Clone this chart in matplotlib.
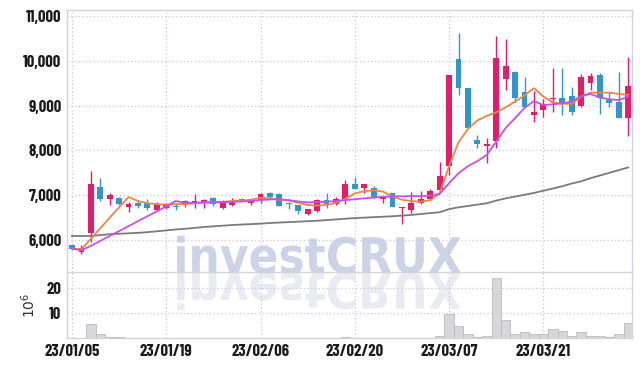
import matplotlib
matplotlib.use("Agg")
import matplotlib.pyplot as plt
import numpy as np
from matplotlib import font_manager
from matplotlib.textpath import TextPath
from matplotlib.patches import PathPatch
from matplotlib.font_manager import FontProperties
from matplotlib.transforms import Affine2D

# --- data ---
date_ticks = [0, 10, 20, 30, 40, 50]
date_labels = ["23/01/05", "23/01/19", "23/02/06", "23/02/20", "23/03/07", "23/03/21"]

opens = [5880, 5740, 6150, 7180, 6920, 6940, 6745, 6830, 6830, 6680,
         6710, 6770, 6780, 6800, 6820, 6930, 6725, 6785, 6910, 6830,
         6895, 7040, 7020, 6830, 6780, 6580, 6650, 6890, 6810, 6910,
         7255, 7155, 7150, 6910, 7040, 6710, 6660, 6820, 6915, 7120,
         7660, 10040, 9390, 8230, 8105, 8200, 9590, 9760, 9310, 8780,
         8905, 9150, 9165, 9215, 9000, 9510, 9680, 9125, 9085, 8730]
highs = [5900, 5890, 7550, 7380, 7060, 6970, 6845, 6890, 6910, 6840,
         6820, 6810, 6890, 7020, 6910, 6950, 6890, 6930, 6945, 6910,
         7040, 7080, 7040, 6840, 6790, 6700, 6910, 7060, 6950, 7340,
         7410, 7260, 7200, 6990, 7060, 6740, 7075, 7090, 7130, 7735,
         9690, 10610, 9400, 8340, 8270, 10550, 10480, 9780, 9630, 9330,
         9140, 9850, 9830, 9420, 9700, 9720, 9720, 9310, 9760, 10080]
lows = [5780, 5680, 5960, 6860, 6780, 6780, 6630, 6710, 6670, 6650,
        6690, 6680, 6740, 6710, 6710, 6750, 6700, 6750, 6860, 6790,
        6830, 6930, 6750, 6700, 6580, 6550, 6630, 6710, 6790, 6810,
        7130, 7050, 6920, 6820, 6740, 6360, 6610, 6800, 6890, 7100,
        7450, 9240, 8500, 8050, 7710, 8050, 9350, 9090, 8950, 8640,
        8750, 8865, 8790, 8790, 8980, 9350, 8810, 8960, 8720, 8320]
closes = [5810, 5830, 7260, 6920, 7010, 6800, 6800, 6770, 6710, 6810,
          6780, 6740, 6865, 6860, 6890, 6800, 6830, 6875, 6895, 6880,
          7020, 6950, 6770, 6800, 6640, 6690, 6890, 6810, 6910, 7260,
          7140, 7255, 6930, 6965, 6745, 6730, 6815, 6905, 7085, 7435,
          9680, 9390, 8510, 8140, 8140, 10055, 9885, 9180, 8960, 8865,
          9030, 9165, 9040, 8865, 9630, 9660, 9165, 9065, 8730, 9440]

ma_short = [5810, 5790, 6030, 6260, 6500, 6730, 6960, 6870, 6820, 6800,
            6790, 6800, 6800, 6820, 6840, 6850, 6850, 6870, 6880, 6900,
            6940, 6930, 6900, 6880, 6830, 6780, 6770, 6780, 6830, 6920,
            7040, 7090, 7110, 7080, 6970, 6900, 6870, 6855, 6890, 7040,
            7650, 8180, 8480, 8670, 8770, 8850, 8960, 9090, 9230, 9390,
            9200, 9070, 9040, 9040, 9200, 9290, 9290, 9290, 9260, 9240]
ma_mid = [5810, 5770, 5870, 5980, 6090, 6200, 6310, 6420, 6530, 6640,
          6750, 6870, 6830, 6830, 6835, 6840, 6845, 6850, 6860, 6870,
          6890, 6905, 6910, 6890, 6860, 6840, 6845, 6855, 6870, 6890,
          6910, 6930, 6950, 6965, 6970, 6975, 6980, 6980, 6990, 7030,
          7270, 7490, 7650, 7760, 7900, 8200, 8500, 8720, 8950, 9100,
          9010, 9030, 9050, 9090, 9210, 9260, 9180, 9140, 9125, 9200]
ma_long = [6090, 6090, 6090, 6110, 6130, 6140, 6150, 6160, 6175, 6195,
           6215, 6235, 6250, 6270, 6290, 6305, 6320, 6335, 6345, 6355,
           6365, 6380, 6390, 6400, 6410, 6420, 6430, 6445, 6460, 6475,
           6490, 6500, 6510, 6520, 6530, 6545, 6560, 6580, 6600, 6620,
           6690, 6730, 6760, 6790, 6820, 6880, 6930, 6970, 7010, 7050,
           7100, 7150, 7200, 7260, 7310, 7380, 7440, 7500, 7560, 7620]

volume = [0.05, 0.05, 5.8, 1.5, 0.6, 0.6, 0.1, 0.1, 0.1, 0.1,
          0.1, 0.1, 0.1, 0.1, 0.1, 0.1, 0.1, 0.1, 0.1, 0.1,
          0.1, 0.1, 0.1, 0.1, 0.1, 0.1, 0.1, 0.1, 0.1, 0.6,
          0.1, 0.1, 0.1, 0.1, 0.1, 0.1, 0.1, 0.1, 0.1, 1.0,
          9.5, 4.7, 1.5, 0.5, 1.0, 23.9, 7.1, 1.8, 2.3, 1.5,
          1.5, 3.8, 2.7, 0.7, 2.3, 1.0, 0.9, 0.6, 1.5, 5.9]

UP = "#e31c6b"
DOWN = "#3197c9"
GRID = "#c6c6dc"
FRAME = "#d2d2da"
TEXT = "#1a1a1a"

names = {f.name for f in font_manager.fontManager.ttflist}
label_font = "Barlow Condensed" if "Barlow Condensed" in names else "DejaVu Sans"

W, H = 642, 366
fig = plt.figure(figsize=(W / 100, H / 100), dpi=100)
fig.patch.set_facecolor("white")


def fig_rect(x0, y0, x1, y1):
    return [x0 / W, 1 - y1 / H, (x1 - x0) / W, (y1 - y0) / H]


ax = fig.add_axes(fig_rect(67, 10, 632, 272))
axv = fig.add_axes(fig_rect(67, 272, 632, 338), sharex=ax)
for a in (ax, axv):
    a.set_facecolor("none")
    for s in a.spines.values():
        s.set_color(FRAME)
        s.set_linewidth(1.0)
    a.grid(True, color=GRID, linestyle=(0, (1, 2)), linewidth=0.9)
    a.set_axisbelow(True)
    a.tick_params(length=0, pad=4, labelcolor=TEXT)

x = np.arange(len(closes))
o = np.array(opens)
c = np.array(closes)
colors = [UP if cc >= oo else DOWN for oo, cc in zip(o, c)]

# candles
ax.vlines(x, lows, highs, colors=colors, linewidth=1.0, zorder=3)
body_lo = np.minimum(o, c)
body_h = np.maximum(np.abs(c - o), 18)
ax.bar(x, body_h, bottom=body_lo, width=0.62, color=colors, linewidth=0, zorder=4)

ax.plot(x, ma_long, color="#7a7a7a", linewidth=1.3, zorder=5)
ax.plot(x, ma_short, color="#ee8448", linewidth=1.3, zorder=6)
ax.plot(x, ma_mid, color="#c94fe6", linewidth=1.3, zorder=6)

ax.set_xlim(-0.53, 59.4)
ax.set_ylim(5286, 11134)
ax.set_yticks([6000, 7000, 8000, 9000, 10000, 11000])
ax.set_yticklabels([f"{v:,}" for v in [6000, 7000, 8000, 9000, 10000, 11000]])
ax.tick_params(axis="x", labelbottom=False)
ax.spines["bottom"].set_visible(False)

# volume
axv.bar(x, volume, width=1.0, color="#d7d7db", edgecolor="#b9b9c2", linewidth=0.6, zorder=3)
axv.set_ylim(0, 26.5)
axv.set_yticks([10, 20])
axv.set_xticks(date_ticks)
axv.set_xticklabels(date_labels)
axv.set_ylabel(r"$10^6$", fontsize=10, color="#333333", labelpad=6)

for lab in ax.get_yticklabels() + axv.get_yticklabels() + axv.get_xticklabels():
    lab.set_fontfamily([label_font, "DejaVu Sans"])
    lab.set_fontweight("bold")
    lab.set_fontsize(12)

# watermark with reflection
fp = FontProperties(family="DejaVu Sans", weight="bold")
tp = TextPath((0, 0), "investCRUX", size=100, prop=fp)
ext = tp.get_extents()
wx0, wx1, base, top = 177, 461, 273, 235
sx = (wx1 - wx0) / ext.width / W
sy = (base - top) / ext.height / H
main_tr = Affine2D().translate(-ext.x0, 0).scale(sx, sy).translate(wx0 / W, 1 - base / H) + fig.transFigure
refl_tr = Affine2D().translate(-ext.x0, 0).scale(sx, -sy).translate(wx0 / W, 1 - base / H) + fig.transFigure
wm = PathPatch(tp, transform=main_tr, facecolor="#ccd3e6", edgecolor="none", zorder=-1)
wr = PathPatch(tp, transform=refl_tr, facecolor="#eaebf2", edgecolor="none", zorder=-1)
fig.add_artist(wm)
fig.add_artist(wr)
wr.set_clip_box(axv.bbox)

fig.savefig("out.png", dpi=100, facecolor="white")
